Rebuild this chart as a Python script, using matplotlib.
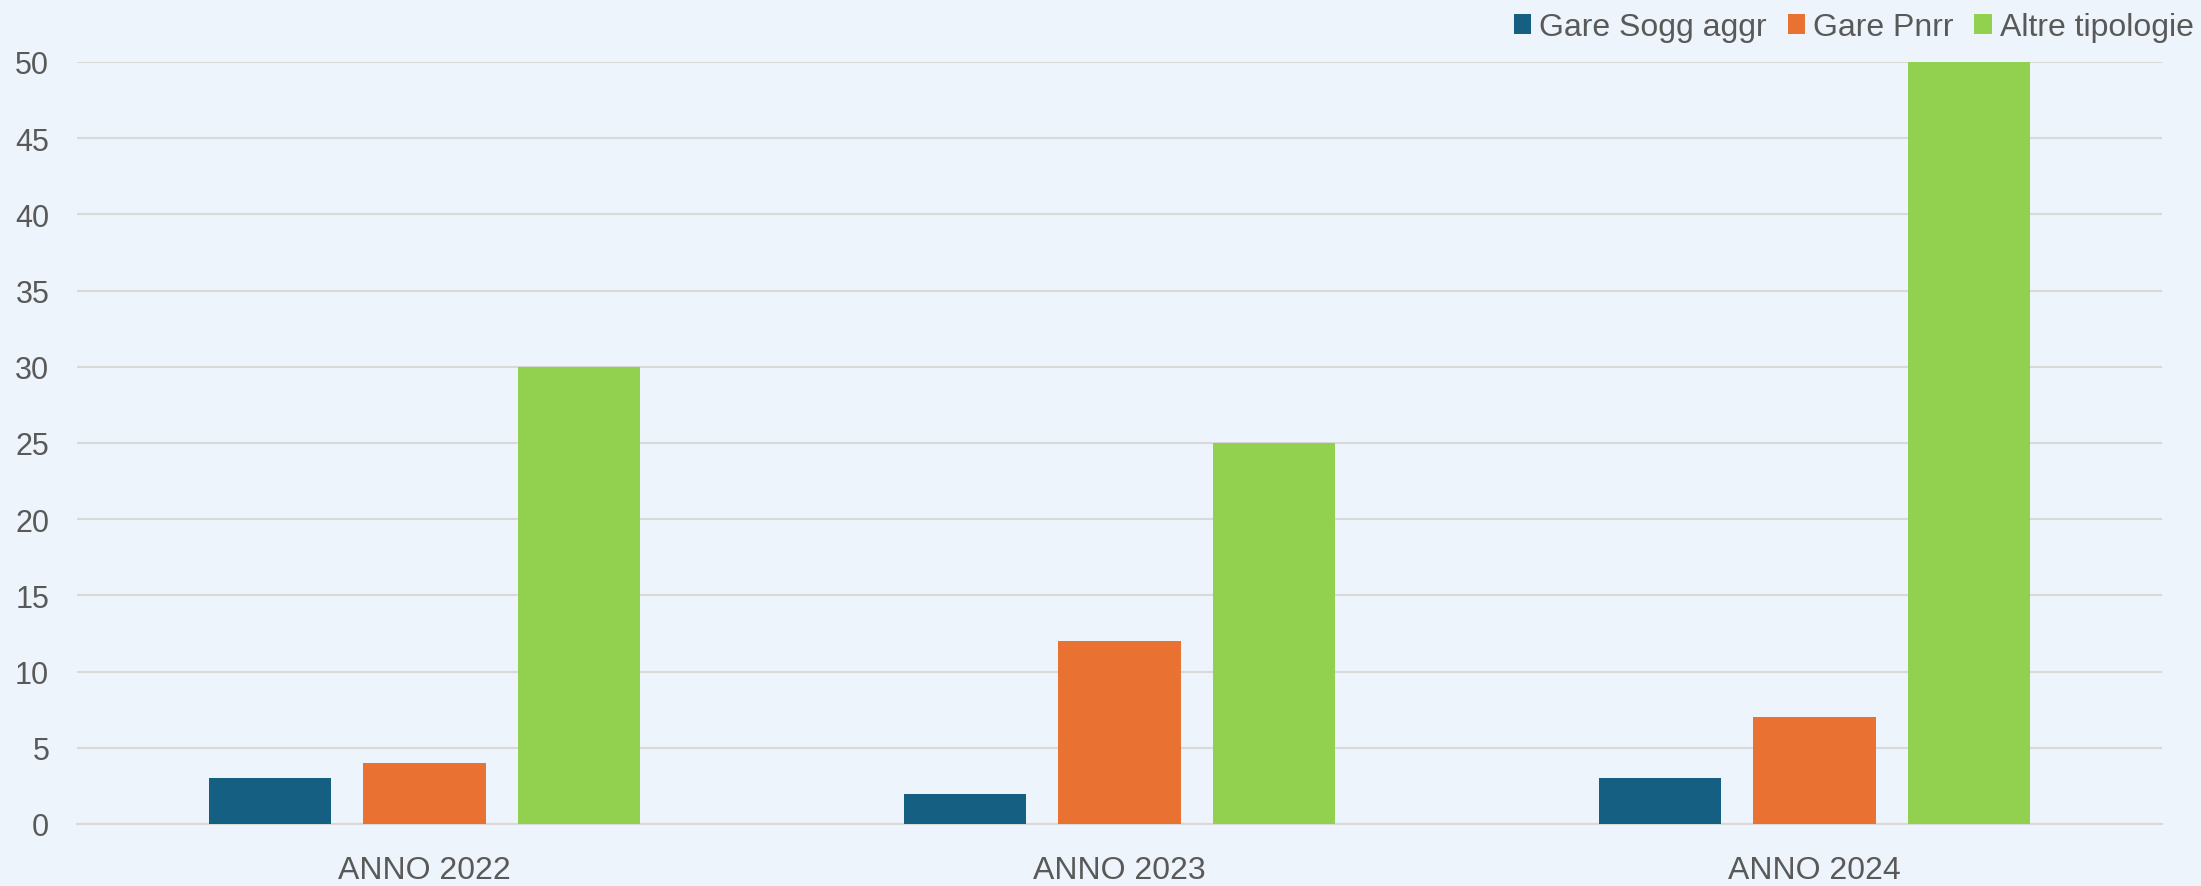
import numpy as np
import matplotlib.pyplot as plt
from matplotlib.patches import Patch

plt.rcParams['font.family'] = ['Liberation Sans', 'DejaVu Sans']

# dati
anni = ['ANNO 2022', 'ANNO 2023', 'ANNO 2024']
serie = ['Gare Sogg aggr', 'Gare Pnrr', 'Altre tipologie']
sogg_aggr = [3, 2, 3]
pnrr = [4, 12, 7]
altre = [30, 25, 50]
colori = ['#155F82', '#E97132', '#92D050']

bg = '#EDF4FB'
testo = '#595959'

fig = plt.figure(figsize=(22.01, 8.87), dpi=100)
fig.patch.set_facecolor(bg)
ax = fig.add_axes([77 / 2201, 62 / 887, 2085 / 2201, 762 / 887])
ax.set_facecolor(bg)

x = np.arange(len(anni))
w = 0.176
passo = 0.222
for i, (vals, c) in enumerate(zip([sogg_aggr, pnrr, altre], colori)):
    ax.bar(x + (i - 1) * passo, vals, width=w, color=c, zorder=3)

ax.set_xlim(-0.5, 2.5)
ax.set_ylim(0, 50)
ax.set_yticks(range(0, 51, 5))
ax.yaxis.grid(True, color='#D9D9D9', linewidth=1.5, zorder=0)
ax.set_xticks(x)
ax.set_xticklabels(anni)
ax.tick_params(axis='both', length=0, labelcolor=testo)
ax.tick_params(axis='y', pad=20, labelsize=22)
ax.tick_params(axis='x', pad=22, labelsize=23)
for s in ['top', 'right', 'left']:
    ax.spines[s].set_visible(False)
ax.spines['bottom'].set_color('#D9D9D9')
ax.spines['bottom'].set_linewidth(1.5)

handles = [Patch(facecolor=c, label=s) for s, c in zip(serie, colori)]
leg = fig.legend(handles=handles, loc='upper right', bbox_to_anchor=(1.004, 1.003),
                 ncol=3, frameon=False, fontsize=23, handlelength=0.55,
                 handleheight=0.55, handletextpad=0.25, columnspacing=0.65,
                 labelcolor=testo, borderaxespad=0.1)

fig.savefig('out.png', dpi=100, facecolor=bg)
